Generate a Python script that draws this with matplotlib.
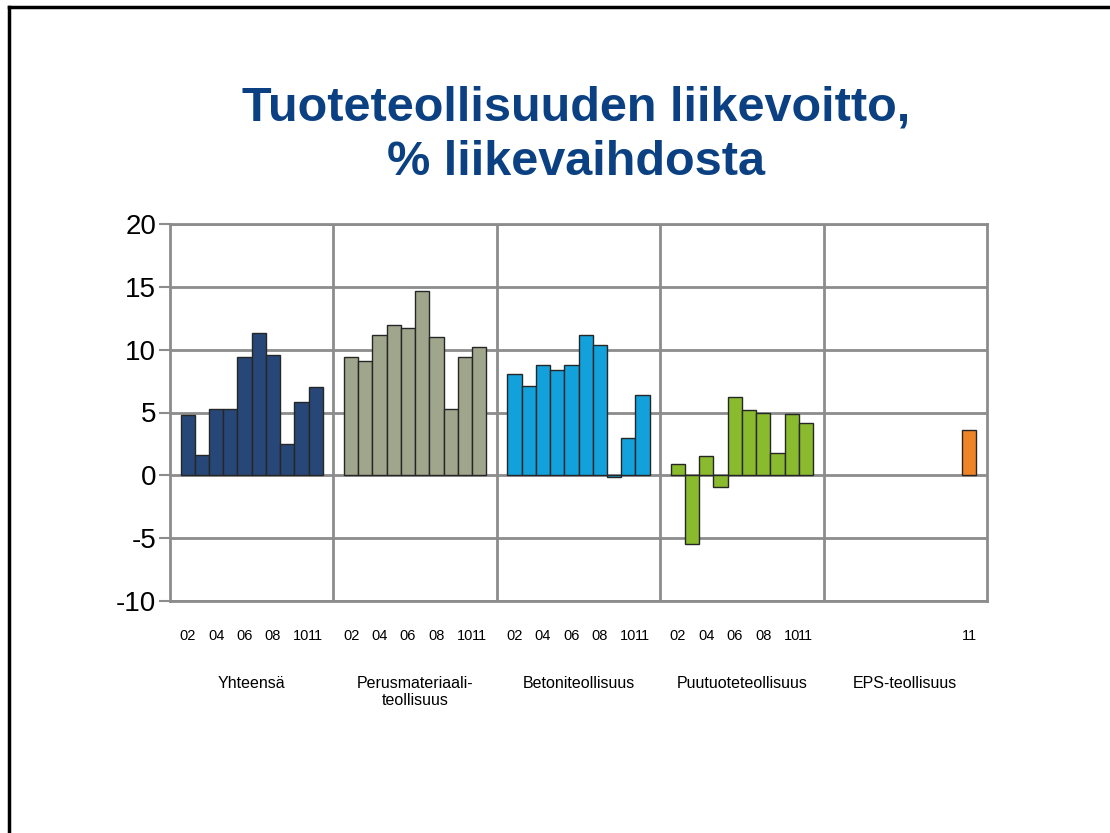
import numpy as np
import matplotlib
matplotlib.use('Agg')
import matplotlib.pyplot as plt
from matplotlib.lines import Line2D

plt.rcParams['font.family'] = ['Liberation Sans', 'DejaVu Sans']
plt.rcParams['axes.unicode_minus'] = False

#-------------------------------------------------------------------------------
years = ['02','03','04','05','06','07','08','09','10','11']
shown = ['02','04','06','08','10','11']
groups = ['Yhteensä', 'Perusmateriaali-\nteollisuus', 'Betoniteollisuus', 'Puutuoteteollisuus', 'EPS-teollisuus']
colors = ['#264778', '#a0a68c', '#13a1db', '#8aba2e', '#ef8426']

yhteensa = [4.8, 1.6, 5.3, 5.3, 9.4, 11.3, 9.6, 2.5, 5.8, 7.0]
perus    = [9.4, 9.1, 11.2, 12.0, 11.7, 14.7, 11.0, 5.3, 9.4, 10.2]
betoni   = [8.1, 7.1, 8.8, 8.4, 8.8, 11.2, 10.4, -0.1, 3.0, 6.4]
puutuote = [0.9, -5.5, 1.5, -0.9, 6.2, 5.2, 5.0, 1.8, 4.9, 4.2]
eps      = [np.nan]*9 + [3.6]
values = [yhteensa, perus, betoni, puutuote, eps]

gw = 11.5   # slots per group (10 bars + side gaps)
pad = 0.75

fig = plt.figure(figsize=(11.10, 8.33), dpi=100)
ax = fig.add_axes([170/1110, 1-601/833, 817/1110, 377/833])

gridc = '#8c8c8c'
for g in range(len(groups)):
    xs = g*gw + pad + 0.5 + np.arange(len(years))
    vals = np.array(values[g], dtype=float)
    ok = ~np.isnan(vals)
    ax.bar(xs[ok], vals[ok], width=1.0, color=colors[g], edgecolor='#262626', linewidth=1.0, zorder=3)
    # year labels under each group
    for j, y in enumerate(years):
        if g == 4 and y != '11':
            continue
        if y in shown:
            ax.text(xs[j], -0.093, y, transform=ax.get_xaxis_transform(), ha='center', va='center', fontsize=10.5)
    ax.text(g*gw + gw/2, -0.2, groups[g], transform=ax.get_xaxis_transform(), ha='center', va='top', fontsize=11.5, linespacing=1.15)

ax.set_xlim(0, gw*len(groups))
ax.set_ylim(-10, 20)
ax.set_yticks(np.arange(-10, 21, 5))
ax.set_xticks([])
ax.grid(axis='y', color=gridc, linewidth=2, zorder=1)
for g in range(1, len(groups)):
    ax.axvline(g*gw, color=gridc, linewidth=2, zorder=1)
for s in ax.spines.values():
    s.set_color(gridc)
    s.set_linewidth(2)
ax.tick_params(axis='y', length=8, width=1.5, color=gridc, labelsize=20, pad=2)

fig.text(0.519, 0.838, 'Tuoteteollisuuden liikevoitto,\n% liikevaihdosta', ha='center', va='center',
         fontsize=35, fontweight='bold', color='#0b4182', linespacing=1.28)

# slide frame (left and top edges)
fig.add_artist(Line2D([9/1110, 9/1110], [0, 1-7/833], transform=fig.transFigure, color='black', linewidth=2.5))
fig.add_artist(Line2D([9/1110, 1], [1-7/833, 1-7/833], transform=fig.transFigure, color='black', linewidth=2.5))

plt.savefig('out.png', dpi=100)
